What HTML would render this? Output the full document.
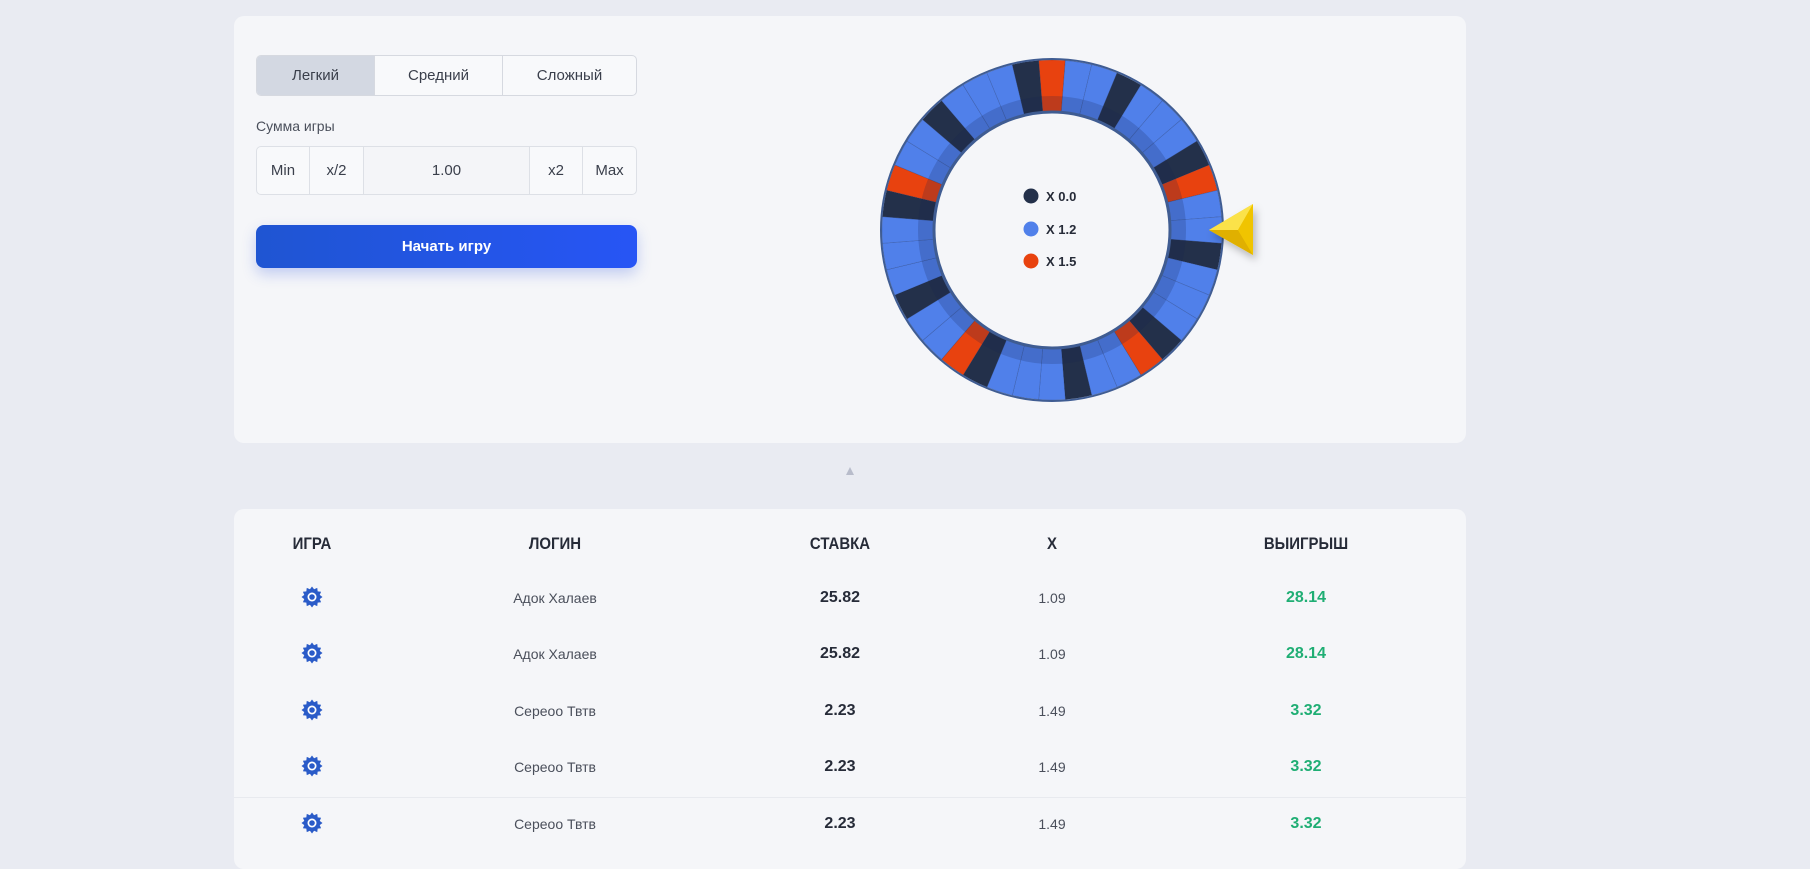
<!DOCTYPE html>
<html><head><meta charset="utf-8">
<style>
*{margin:0;padding:0;box-sizing:border-box}
body{width:1810px;height:846px;overflow:hidden;background:#e9ebf2;font-family:"Liberation Sans","Noto Sans CJK SC",sans-serif;position:relative;color:#2a2f3d}
.panel{position:absolute;background:#f5f6f9;border-radius:10px}
.abs{position:absolute}
.tabs{left:256px;top:55px;width:381px;height:41px;border:1px solid #d6d9e0;border-radius:5px;display:flex;overflow:hidden;background:#f8f9fb}
.tabs div{display:flex;align-items:center;justify-content:center;font-size:15px;color:#3a3f4b;border-right:1px solid #d6d9e0}
.tabs div:last-child{border-right:none}
.inp{left:256px;top:146px;width:381px;height:49px;border:1px solid #dde0e6;border-radius:5px;display:flex;overflow:hidden;background:#f8f9fb}
.inp div{display:flex;align-items:center;justify-content:center;font-size:15px;color:#3a3f4b;border-right:1px solid #dde0e6}
.inp div:last-child{border-right:none}
.btn{left:256px;top:225px;width:381px;height:43px;border-radius:8px;background:linear-gradient(90deg,#1f55d2,#2755f5);color:#fff;font-weight:bold;font-size:15px;display:flex;align-items:center;justify-content:center;box-shadow:0 6px 14px rgba(40,80,220,.25)}
.th{position:absolute;top:534px;font-weight:bold;font-size:17px;color:#262b38;transform:translateX(-50%) scaleX(.88)}
.td{position:absolute;font-size:14px;transform:translateX(-50%);color:#4a4f5b}
.b{font-weight:bold;font-size:16px;color:#262b38}
.g{font-weight:bold;font-size:16px;color:#1fae74}
</style></head><body>
<div class="panel" style="left:234px;top:16px;width:1232px;height:427px"></div>
<div class="abs tabs"><div style="width:118px;background:#d3d8e2">Легкий</div><div style="width:128px">Средний</div><div style="flex:1">Сложный</div></div>
<div class="abs" style="left:256px;top:118px;font-size:14px;color:#4a4f5b">Сумма игры</div>
<div class="abs inp"><div style="width:53px">Min</div><div style="width:54px">x/2</div><div style="width:166px;background:#f4f5f8">1.00</div><div style="width:53px">x2</div><div style="flex:1">Max</div></div>
<div class="abs btn">Начать игру</div>

<svg class="abs" style="left:0;top:0" width="1810" height="846" id="wh">
<defs><filter id="sh" x="-50%" y="-50%" width="200%" height="200%"><feDropShadow dx="3" dy="5" stdDeviation="4" flood-color="#000" flood-opacity=".25"/></filter></defs>
<g id="ring"></g>
<circle cx="1052" cy="230" r="118" fill="#f5f6f9" stroke="#3f5c92" stroke-width="3"/>
<circle cx="1052" cy="230" r="171" fill="none" stroke="#3f5c92" stroke-width="2"/>
<circle cx="1031" cy="196" r="7.5" fill="#23304a"/><text x="1046" y="201" font-size="13" font-weight="bold" fill="#262b38" font-family="Liberation Sans">X 0.0</text>
<circle cx="1031" cy="229" r="7.5" fill="#5080ea"/><text x="1046" y="234" font-size="13" font-weight="bold" fill="#262b38" font-family="Liberation Sans">X 1.2</text>
<circle cx="1031" cy="261" r="7.5" fill="#e8420f"/><text x="1046" y="266" font-size="13" font-weight="bold" fill="#262b38" font-family="Liberation Sans">X 1.5</text>
<g filter="url(#sh)">
<polygon points="1209,230 1253,204 1253,255" fill="#f2cc12"/>
<polygon points="1209,230 1253,204 1238,230" fill="#fbe24a"/>
<polygon points="1209,230 1238,230 1253,255" fill="#e0b000"/>
<polygon points="1238,230 1253,204 1253,255" fill="#f0c400"/>
</g>
<polygon points="846,475 854,475 850,467" fill="#b8bccb"/>
</svg>

<div class="panel" style="left:234px;top:509px;width:1232px;height:360px"></div>
<div class="abs" style="left:234px;top:797px;width:1232px;height:1px;background:#e8eaef"></div>
<div class="th" style="left:312px">ИГРА</div>
<div class="th" style="left:555px">ЛОГИН</div>
<div class="th" style="left:840px">СТАВКА</div>
<div class="th" style="left:1052px">X</div>
<div class="th" style="left:1306px">ВЫИГРЫШ</div>
<div id="rows"></div>
<script>
var g=document.getElementById('ring'),cx=1052,cy=230,R=170,r=118,s='';
var dark=[-99,-63,-27,9,45,81,117,153,189,225],red=[-90,-18,54,126,198];
function P(a,rad){a=a*Math.PI/180;return (cx+rad*Math.cos(a)).toFixed(2)+','+(cy+rad*Math.sin(a)).toFixed(2);}
for(var k=0;k<40;k++){var c=-90+9*k;var cc=((c+180)%360+360)%360-180;var col='#5080ea';
 dark.forEach(function(d){if(((d-cc)%360+360)%360==0)col='#23304a'});
 red.forEach(function(d){if(((d-cc)%360+360)%360==0)col='#e8420f'});
 var a0=c-4.5,a1=c+4.5;
 s+='<path d="M'+P(a0,R)+' A'+R+','+R+' 0 0 1 '+P(a1,R)+' L'+P(a1,r)+' A'+r+','+r+' 0 0 0 '+P(a0,r)+'Z" fill="'+col+'" stroke="rgba(20,40,90,.3)" stroke-width=".6"/>';}
s+='<circle cx="'+cx+'" cy="'+cy+'" r="126" fill="none" stroke="rgba(20,35,80,.2)" stroke-width="16"/>';
g.innerHTML=s;
var data=[['Адок Халаев','25.82','1.09','28.14'],['Адок Халаев','25.82','1.09','28.14'],['Сереоо Твтв','2.23','1.49','3.32'],['Сереоо Твтв','2.23','1.49','3.32'],['Сереоо Твтв','2.23','1.49','3.32']];
var ys=[590,646,703,759,816],h='';
var icon='<svg width="22" height="22" viewBox="-11 -11 22 22"><polygon fill="#2a5bc8" points="'+(function(){var p=[];for(var i=0;i<24;i++){var a=i*Math.PI/12,rr=i%2?8:10.5;p.push((rr*Math.cos(a)).toFixed(2)+','+(rr*Math.sin(a)).toFixed(2));}return p.join(' ')})()+'"/><circle r="4.5" fill="#fff"/><circle r="2.8" fill="#2a5bc8"/></svg>';
data.forEach(function(d,i){var y=ys[i];
h+='<div class="td" style="left:312px;top:'+(y-4)+'px">'+icon+'</div>';
h+='<div class="td" style="left:555px;top:'+y+'px">'+d[0]+'</div>';
h+='<div class="td b" style="left:840px;top:'+(y-1)+'px">'+d[1]+'</div>';
h+='<div class="td" style="left:1052px;top:'+y+'px">'+d[2]+'</div>';
h+='<div class="td g" style="left:1306px;top:'+(y-1)+'px">'+d[3]+'</div>';});
document.getElementById('rows').innerHTML=h;
</script>
</body></html>
